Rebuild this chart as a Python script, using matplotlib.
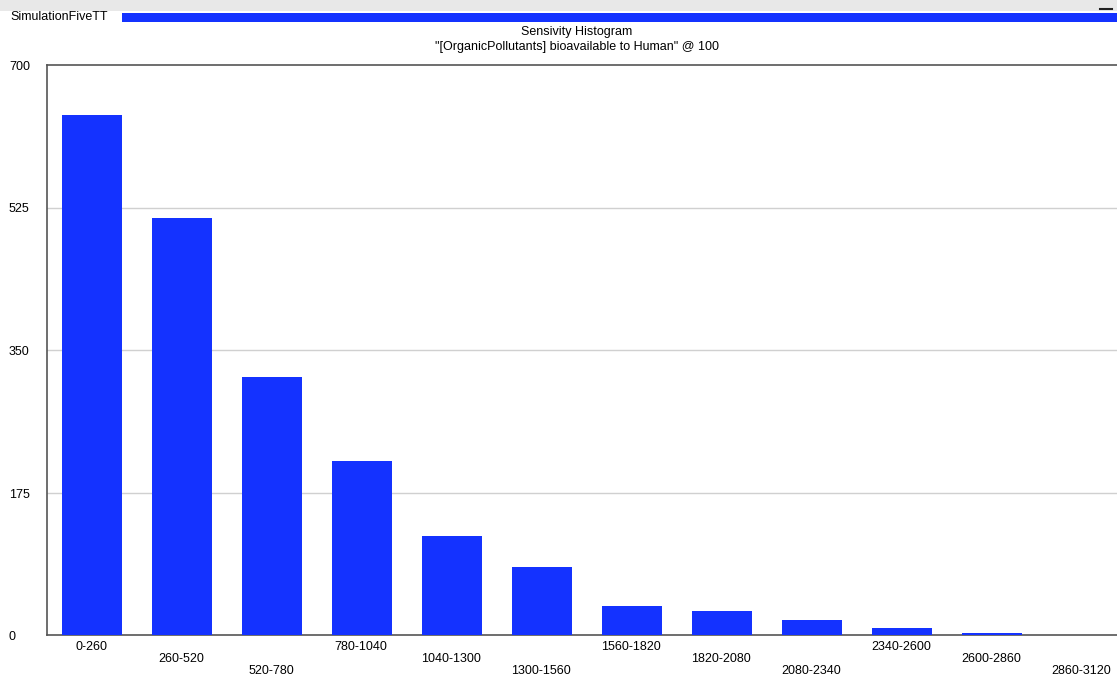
import matplotlib
matplotlib.use('Agg')
import matplotlib.pyplot as plt
from matplotlib.patches import Rectangle
from matplotlib.lines import Line2D

# ---- data ----
bins = ['0-260', '260-520', '520-780', '780-1040', '1040-1300', '1300-1560',
        '1560-1820', '1820-2080', '2080-2340', '2340-2600', '2600-2860', '2860-3120']
counts = [639, 512, 317, 214, 122, 84, 36, 30, 19, 9, 3, 0]
yticks = [0, 175, 350, 525, 700]

W, H = 1117, 677
plt.rcParams['font.family'] = ['Liberation Sans', 'DejaVu Sans']
fig = plt.figure(figsize=(W/100., H/100.), dpi=100)
fig.patch.set_facecolor('white')

blue = '#1432ff'
fs = 9

# window header bits
fig.patches.append(Rectangle((0, 1-11./H), 1, 11./H, transform=fig.transFigure,
                             facecolor='#e8e8e8', edgecolor='none', zorder=0))
fig.patches.append(Rectangle((122./W, 1-22./H), 1-122./W, 9./H, transform=fig.transFigure,
                             facecolor=blue, edgecolor='none', zorder=1))
fig.lines.append(Line2D([1100./W, 1112./W], [1-9./H, 1-9./H], transform=fig.transFigure,
                        color='#222222', lw=1.5))
fig.text(10./W, 1-17./H, 'SimulationFiveTT', fontsize=fs, va='center', ha='left')
fig.text(577./W, 1-32./H, 'Sensivity Histogram', fontsize=fs, va='center', ha='center')
fig.text(577./W, 1-47./H, '"[OrganicPollutants] bioavailable to Human" @ 100', fontsize=fs,
         va='center', ha='center')

# axes: left 47, right 1127 (runs off the page), top 65, bottom 635
ax = fig.add_axes([47./W, 1-635./H, 1080./W, 570./H])
x = list(range(len(bins)))
ax.bar(x, counts, width=0.667, color=blue, zorder=3)
ax.set_xlim(-0.5, len(bins)-0.5)
ax.set_ylim(0, 700)
ax.set_yticks([])
ax.set_xticks([])
for v in yticks:
    ax.text(-38./1080, v - 2*700/570., str(v), fontsize=fs, ha='left', va='center',
            transform=ax.get_yaxis_transform())
for v in yticks[1:-1]:
    ax.axhline(v, color='#d0d0d0', lw=1, zorder=1)

for i, b in enumerate(bins):
    row = i % 3
    ax.text(i - 0.01, -(12 + row*12)*700/570., b, fontsize=fs, ha='center', va='center')
for s in ['left', 'top', 'bottom']:
    ax.spines[s].set_color('#555555')
    ax.spines[s].set_linewidth(1.2)
ax.spines['right'].set_visible(False)

fig.savefig('out.png', dpi=100)
